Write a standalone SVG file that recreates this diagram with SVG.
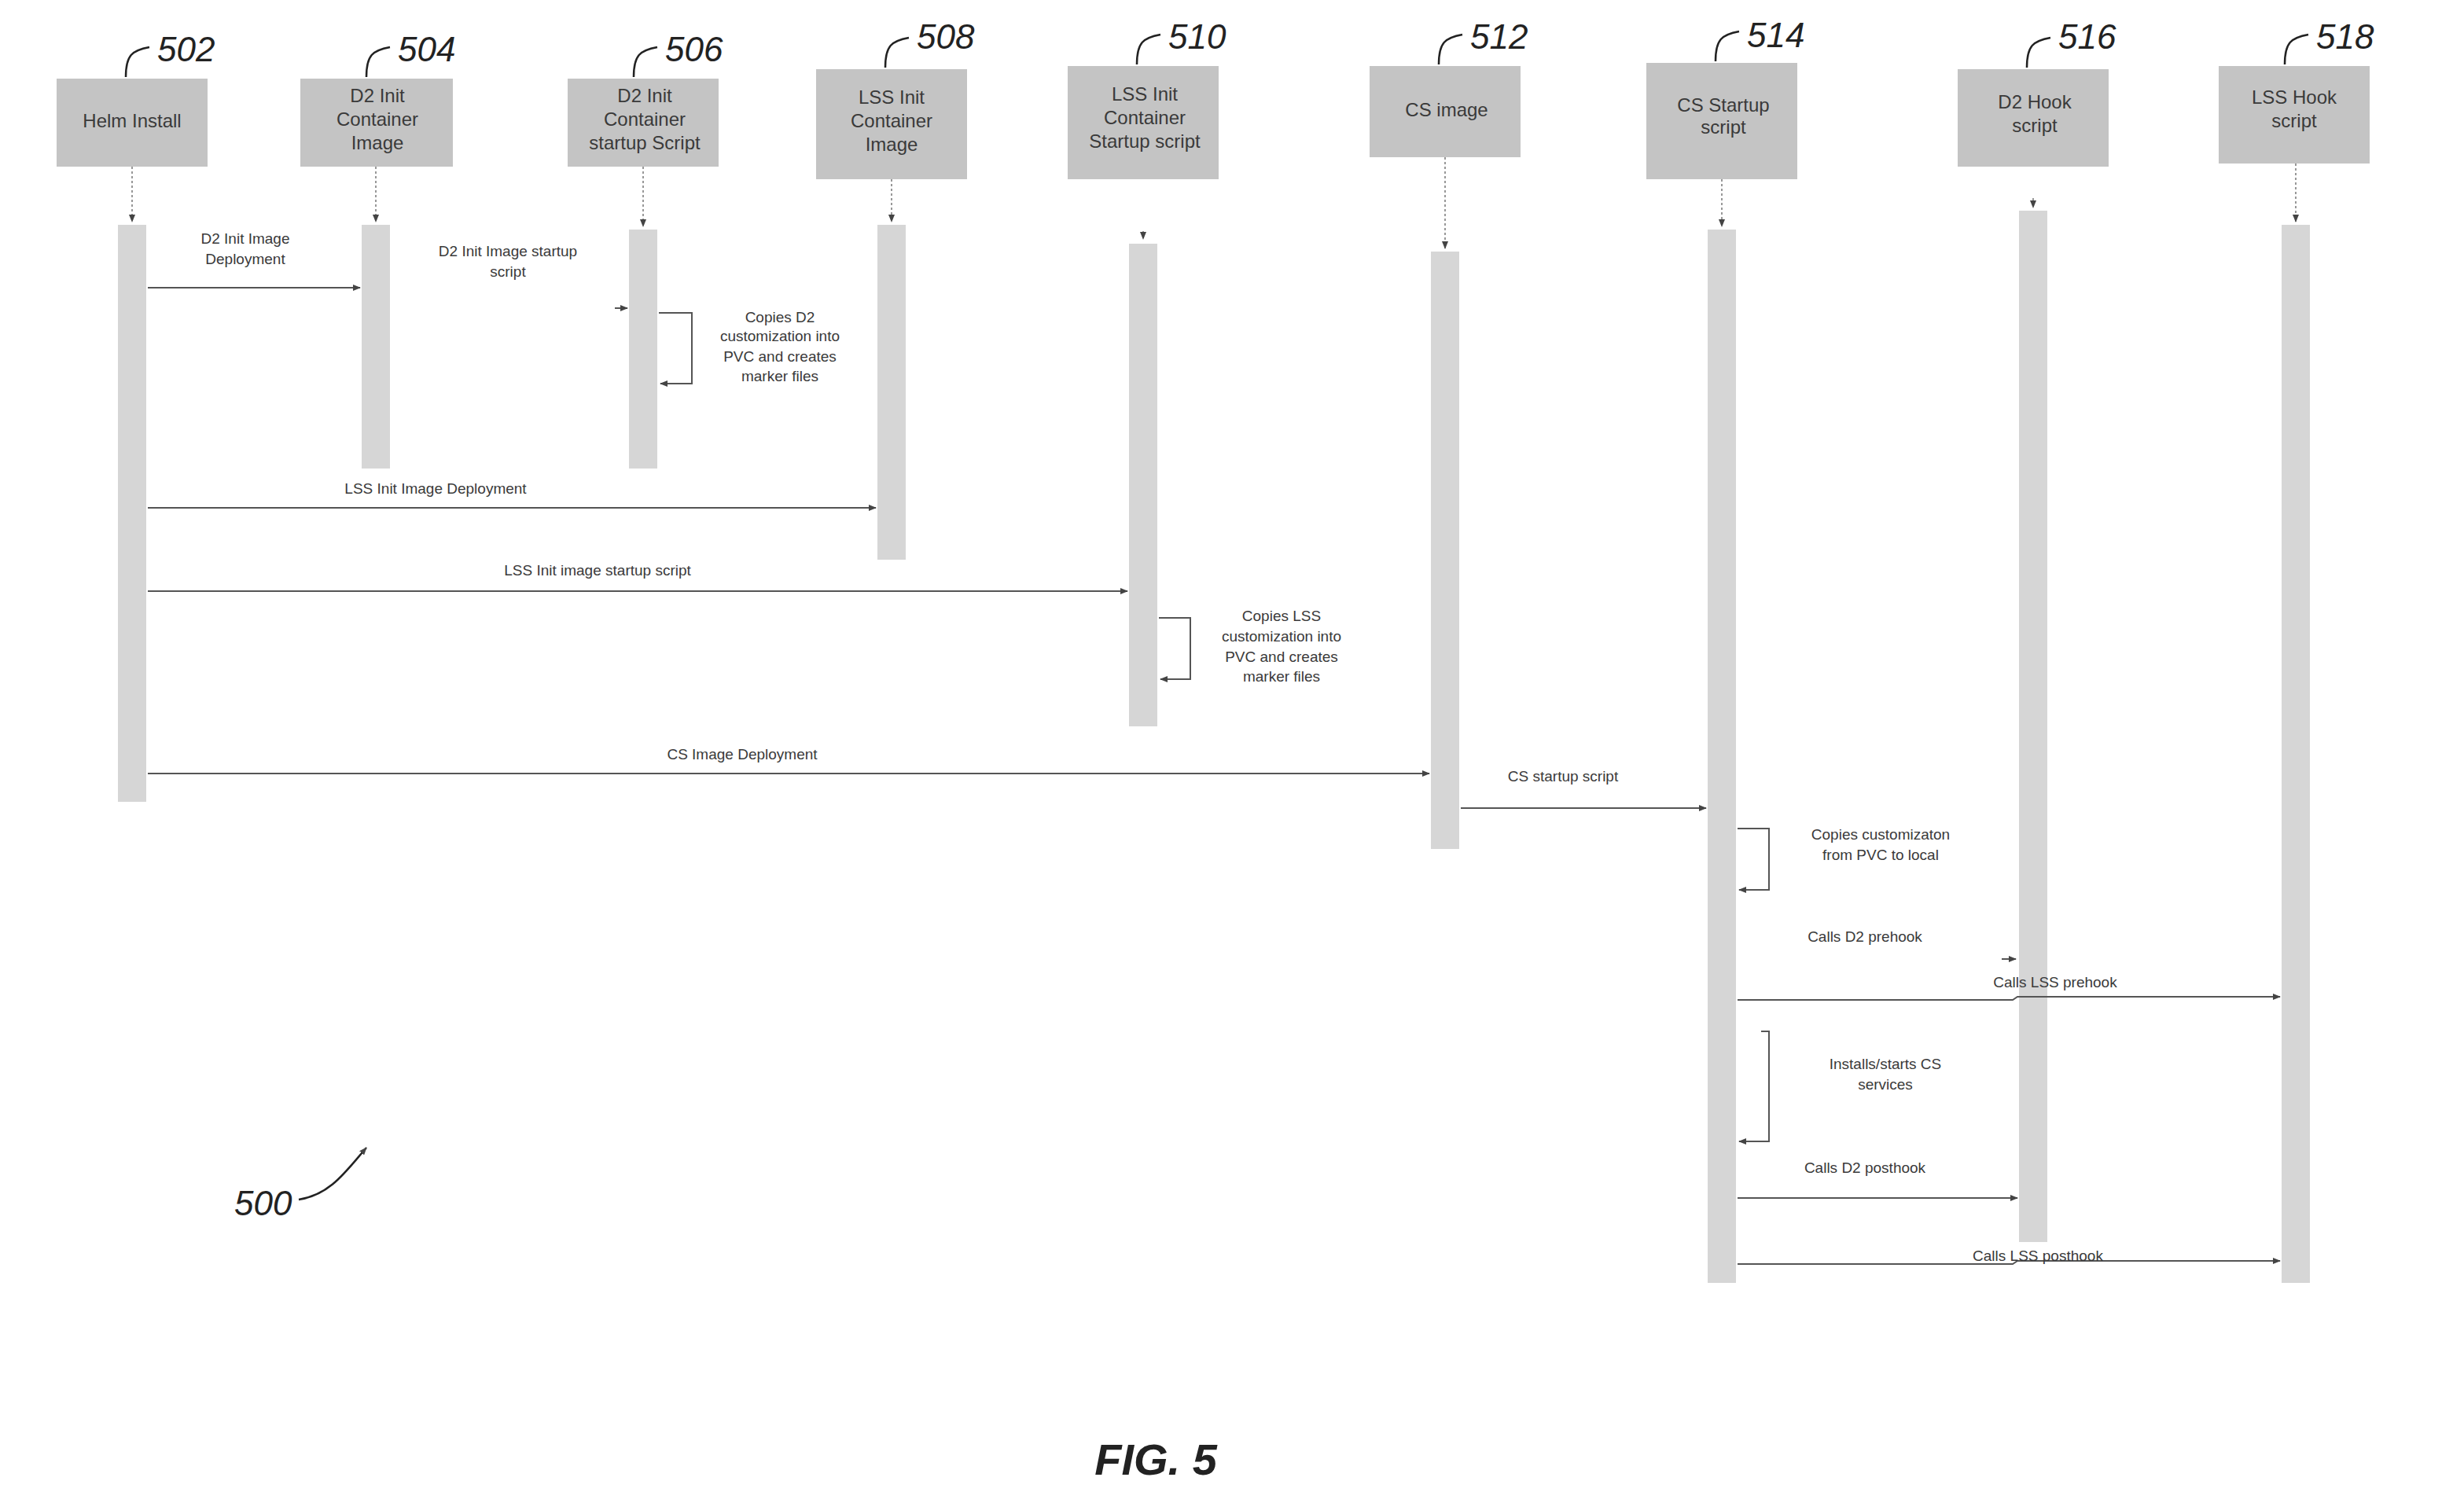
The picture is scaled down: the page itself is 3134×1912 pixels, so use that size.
<svg xmlns="http://www.w3.org/2000/svg" width="3134" height="1912" viewBox="0 0 3134 1912">
<style>
.box{fill:#c4c4c4}
.bar{fill:#d6d6d6}
.nt{font-family:"Liberation Sans",Arial,sans-serif;font-size:24px;fill:#3a3a3a;text-anchor:middle}
.mt{font-family:"Liberation Sans",Arial,sans-serif;font-size:19px;fill:#3a3a3a;text-anchor:middle}
.ref{font-family:"Liberation Sans",Arial,sans-serif;font-size:44px;font-style:italic;fill:#222}
.ld{fill:none;stroke:#222;stroke-width:2.5}
.msg{fill:none;stroke:#555;stroke-width:2;marker-end:url(#ah)}
.dl{fill:none;stroke:#777;stroke-width:1.5;stroke-dasharray:3 3;marker-end:url(#ah)}
</style>
<defs>
<marker id="ah" markerWidth="10" markerHeight="8" refX="9" refY="4" orient="auto" markerUnits="userSpaceOnUse"><path d="M0,0 L10,4 L0,8 Z" fill="#444"/></marker>
</defs>
<rect width="3134" height="1912" fill="#fff"/>
<g id="n502"><rect class="box" x="72" y="100" width="192" height="112"/><text class="nt" x="168" y="162">Helm Install</text><path class="ld" d="M160,98 C160,70 168,64 190,60"/><text class="ref" x="200" y="78">502</text><rect class="bar" x="150" y="286" width="36" height="734"/></g>
<g id="n504"><rect class="box" x="382" y="100" width="194" height="112"/><text class="nt" x="480" y="130">D2 Init</text><text class="nt" x="480" y="160">Container</text><text class="nt" x="480" y="190">Image</text><path class="ld" d="M466,98 C466,70 474,64 496,60"/><text class="ref" x="506" y="78">504</text><rect class="bar" x="460" y="286" width="36" height="310"/></g>
<g id="n506"><rect class="box" x="722" y="100" width="192" height="112"/><text class="nt" x="820" y="130">D2 Init</text><text class="nt" x="820" y="160">Container</text><text class="nt" x="820" y="190">startup Script</text><path class="ld" d="M806,98 C806,70 814,64 836,60"/><text class="ref" x="846" y="78">506</text><rect class="bar" x="800" y="292" width="36" height="304"/></g>
<g id="n508"><rect class="box" x="1038" y="88" width="192" height="140"/><text class="nt" x="1134" y="132">LSS Init</text><text class="nt" x="1134" y="162">Container</text><text class="nt" x="1134" y="192">Image</text><path class="ld" d="M1126,86 C1126,58 1134,52 1156,48"/><text class="ref" x="1166" y="62">508</text><rect class="bar" x="1116" y="286" width="36" height="426"/></g>
<g id="n510"><rect class="box" x="1358" y="84" width="192" height="144"/><text class="nt" x="1456" y="128">LSS Init</text><text class="nt" x="1456" y="158">Container</text><text class="nt" x="1456" y="188">Startup script</text><path class="ld" d="M1446,82 C1446,54 1454,48 1476,44"/><text class="ref" x="1486" y="62">510</text><rect class="bar" x="1436" y="310" width="36" height="614"/></g>
<g id="n512"><rect class="box" x="1742" y="84" width="192" height="116"/><text class="nt" x="1840" y="148">CS image</text><path class="ld" d="M1830,82 C1830,54 1838,48 1860,44"/><text class="ref" x="1870" y="62">512</text><rect class="bar" x="1820" y="320" width="36" height="760"/></g>
<g id="n514"><rect class="box" x="2094" y="80" width="192" height="148"/><text class="nt" x="2192" y="142">CS Startup</text><text class="nt" x="2192" y="170">script</text><path class="ld" d="M2182,78 C2182,50 2190,44 2212,40"/><text class="ref" x="2222" y="60">514</text><rect class="bar" x="2172" y="292" width="36" height="1340"/></g>
<g id="n516"><rect class="box" x="2490" y="88" width="192" height="124"/><text class="nt" x="2588" y="138">D2 Hook</text><text class="nt" x="2588" y="168">script</text><path class="ld" d="M2578,86 C2578,58 2586,52 2608,48"/><text class="ref" x="2618" y="62">516</text><rect class="bar" x="2568" y="268" width="36" height="1312"/></g>
<g id="n518"><rect class="box" x="2822" y="84" width="192" height="124"/><text class="nt" x="2918" y="132">LSS Hook</text><text class="nt" x="2918" y="162">script</text><path class="ld" d="M2906,82 C2906,54 2914,48 2936,44"/><text class="ref" x="2946" y="62">518</text><rect class="bar" x="2902" y="286" width="36" height="1346"/></g>
<g id="connectors">
<path class="dl" d="M168,212 V282"/><path class="dl" d="M478,212 V282"/><path class="dl" d="M818,212 V288"/><path class="dl" d="M1134,228 V282"/><path class="dl" d="M1454,294 V304"/><path class="dl" d="M1838,200 V316"/><path class="dl" d="M2190,228 V288"/><path class="dl" d="M2586,252 V264"/><path class="dl" d="M2920,208 V282"/>
<path class="msg" d="M188,366 H458"/>
<path class="msg" d="M782,392 H798"/>
<path class="msg" d="M838,398 H880 V488 H840"/>
<path class="msg" d="M188,646 H1114"/>
<path class="msg" d="M188,752 H1434"/>
<path class="msg" d="M1474,786 H1514 V864 H1476"/>
<path class="msg" d="M188,984 H1818"/>
<path class="msg" d="M1858,1028 H2170"/>
<path class="msg" d="M2210,1054 H2250 V1132 H2212"/>
<path class="msg" d="M2546,1220 H2564"/>
<path class="msg" d="M2210,1272 H2560 L2566,1268 H2900"/>
<path class="msg" d="M2240,1312 H2250 V1452 H2212"/>
<path class="msg" d="M2210,1524 H2566"/>
<path class="msg" d="M2210,1608 H2560 L2566,1604 H2900"/>
</g>
<g id="labels">
<text class="mt" x="312" y="310">D2 Init Image</text><text class="mt" x="312" y="336">Deployment</text>
<text class="mt" x="646" y="326">D2 Init Image startup</text><text class="mt" x="646" y="352">script</text>
<text class="mt" x="992" y="410">Copies D2</text><text class="mt" x="992" y="434">customization into</text><text class="mt" x="992" y="460">PVC and creates</text><text class="mt" x="992" y="485">marker files</text>
<text class="mt" x="554" y="628">LSS Init Image Deployment</text>
<text class="mt" x="760" y="732">LSS Init image startup script</text>
<text class="mt" x="1630" y="790">Copies LSS</text><text class="mt" x="1630" y="816">customization into</text><text class="mt" x="1630" y="842">PVC and creates</text><text class="mt" x="1630" y="867">marker files</text>
<text class="mt" x="944" y="966">CS Image Deployment</text>
<text class="mt" x="1988" y="994">CS startup script</text>
<text class="mt" x="2392" y="1068">Copies customizaton</text><text class="mt" x="2392" y="1094">from PVC to local</text>
<text class="mt" x="2372" y="1198">Calls D2 prehook</text>
<text class="mt" x="2614" y="1256">Calls LSS prehook</text>
<text class="mt" x="2398" y="1360">Installs/starts CS</text><text class="mt" x="2398" y="1386">services</text>
<text class="mt" x="2372" y="1492">Calls D2 posthook</text>
<text class="mt" x="2592" y="1604">Calls LSS posthook</text>
<text class="ref" x="298" y="1546">500</text>
<path class="ld" d="M380,1526 C420,1520 440,1490 466,1460" marker-end="url(#ah)"/>
<text x="1470" y="1876" font-family="Liberation Sans,Arial,sans-serif" font-size="56" font-style="italic" font-weight="bold" fill="#222" text-anchor="middle">FIG. 5</text>
</g>
</svg>
